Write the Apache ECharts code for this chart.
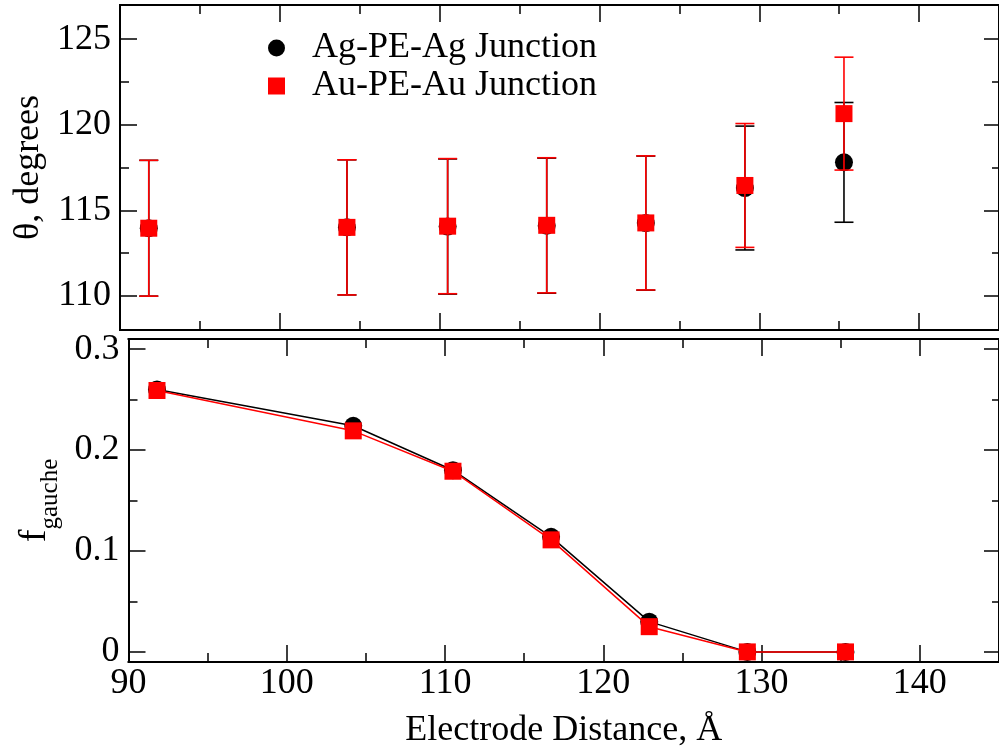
<!DOCTYPE html>
<html>
<head>
<meta charset="utf-8">
<script src="https://cdn.jsdelivr.net/npm/echarts@6/dist/echarts.min.js"></script>
<style>
  html, body { margin: 0; padding: 0; background: #fff; }
  #chart { width: 999px; height: 750px; }
</style>
</head>
<body>
<div id="chart"></div>
<script>
// electrode distance, Å
var distance = [91.8, 104.2, 110.5, 116.7, 122.9, 129.1, 135.3];
// angle theta (degrees) with error bars
var agTheta = [113.95, 114.0, 114.05, 114.1, 114.25, 116.3, 117.8];
var agThetaErr = [3.97, 3.95, 3.95, 3.95, 3.92, 3.62, 3.5];
var auTheta = [113.95, 114.0, 114.07, 114.12, 114.26, 116.45, 120.65];
var auThetaErr = [3.97, 3.95, 3.95, 3.95, 3.92, 3.62, 3.3];
// gauche fraction
var agGauche = [0.260, 0.224, 0.180, 0.114, 0.030, 0.0, 0.0];
var auGauche = [0.259, 0.219, 0.179, 0.111, 0.025, 0.0, 0.0];
// ticks
var xTicks = [90, 100, 110, 120, 130, 140];
var xMinor = [95, 105, 115, 125, 135, 145];
var thetaTicks = [110, 115, 120, 125];
var thetaMinor = [112.5, 117.5, 122.5];
var gaucheTicks = [0, 0.1, 0.2, 0.3];
var gaucheMinor = [0.05, 0.15, 0.25];

var agName = 'Ag-PE-Ag Junction';
var auName = 'Au-PE-Au Junction';
var font = '"Liberation Serif", "Times New Roman", serif';

var chart = echarts.init(document.getElementById('chart'), null, { renderer: 'canvas' });

function zip(xs, ys) {
  return xs.map(function (x, i) { return [x, ys[i]]; });
}
function errData(xs, ys, es) {
  return xs.map(function (x, i) { return [x, ys[i] - es[i], ys[i] + es[i]]; });
}

// one axis: major (with optional labels) or minor (short ticks only)
function axis(opt) {
  var a = {
    type: 'value',
    gridIndex: opt.grid,
    position: opt.pos,
    min: opt.min,
    max: opt.max,
    axisLine: { show: true, onZero: false, lineStyle: { color: '#000', width: 2 } },
    axisTick: {
      show: true, inside: true, length: opt.len,
      customValues: opt.ticks,
      lineStyle: { color: '#000', width: 1.5 }
    },
    axisLabel: { show: false },
    splitLine: { show: false }
  };
  if (opt.labels) {
    a.axisLabel = {
      show: true,
      customValues: opt.ticks,
      margin: opt.margin,
      color: '#000',
      fontFamily: font,
      fontSize: 36,
      formatter: function (v) { return String(+v.toFixed(2)); }
    };
  }
  return a;
}

function xAxes(grid, labels) {
  return [
    axis({ grid: grid, pos: 'bottom', min: 90, max: 145, len: 17, ticks: xTicks, labels: labels, margin: 4 }),
    axis({ grid: grid, pos: 'bottom', min: 90, max: 145, len: 9, ticks: xMinor }),
    axis({ grid: grid, pos: 'top', min: 90, max: 145, len: 17, ticks: xTicks }),
    axis({ grid: grid, pos: 'top', min: 90, max: 145, len: 9, ticks: xMinor })
  ];
}
function yAxes(grid, min, max, ticks, minor) {
  return [
    axis({ grid: grid, pos: 'left', min: min, max: max, len: 17, ticks: ticks, labels: true, margin: 9 }),
    axis({ grid: grid, pos: 'left', min: min, max: max, len: 9, ticks: minor }),
    axis({ grid: grid, pos: 'right', min: min, max: max, len: 15, ticks: ticks }),
    axis({ grid: grid, pos: 'right', min: min, max: max, len: 7, ticks: minor })
  ];
}

var xs = xAxes(0, false).concat(xAxes(1, true));
var ys = yAxes(0, 108, 127, thetaTicks, thetaMinor).concat(yAxes(1, -0.01, 0.31, gaucheTicks, gaucheMinor));

xs[4].name = 'Electrode Distance, Å';
xs[4].nameLocation = 'middle';
xs[4].nameGap = 51;
xs[4].nameTextStyle = { color: '#000', fontFamily: font, fontSize: 36 };

ys[0].name = 'θ, degrees';
ys[0].nameLocation = 'middle';
ys[0].nameGap = 72;
ys[0].nameTextStyle = { color: '#000', fontFamily: font, fontSize: 36 };

ys[4].name = '{f|f}{s|gauche}';
ys[4].nameLocation = 'middle';
ys[4].nameGap = 73;
ys[4].nameTextStyle = {
  color: '#000', fontFamily: font,
  rich: {
    f: { fontFamily: font, fontSize: 38, lineHeight: 40, color: '#000' },
    s: { fontFamily: font, fontSize: 25, lineHeight: 28, padding: [30, 0, 0, 0], color: '#000' }
  }
};

function errorBars(color) {
  return function (params, api) {
    var x = api.value(0);
    var lo = api.coord([x, api.value(1)]);
    var hi = api.coord([x, api.value(2)]);
    var half = 9.5;
    var style = { stroke: color, lineWidth: 1.6 };
    return {
      type: 'group',
      children: [
        { type: 'line', shape: { x1: lo[0], y1: lo[1], x2: hi[0], y2: hi[1] }, style: style },
        { type: 'line', shape: { x1: lo[0] - half, y1: lo[1], x2: lo[0] + half, y2: lo[1] }, style: style },
        { type: 'line', shape: { x1: hi[0] - half, y1: hi[1], x2: hi[0] + half, y2: hi[1] }, style: style }
      ]
    };
  };
}

var option = {
  animation: false,
  backgroundColor: '#ffffff',
  grid: [
    { left: 120, top: 5, width: 880, height: 325 },
    { left: 120, top: 339, width: 880, height: 324 }
  ],
  legend: {
    orient: 'vertical',
    left: 263,
    top: 24,
    itemWidth: 17,
    itemHeight: 17,
    itemGap: 0,
    selectedMode: false,
    textStyle: { color: '#000', fontFamily: font, fontSize: 36, lineHeight: 38, padding: [0, 0, 0, 22] },
    data: [
      { name: agName, icon: 'circle' },
      { name: auName, icon: 'rect' }
    ]
  },
  xAxis: xs,
  yAxis: ys,
  series: [
    {
      type: 'custom', name: 'agErr', xAxisIndex: 0, yAxisIndex: 0, z: 2, silent: true,
      renderItem: errorBars('#000'),
      encode: { x: 0, y: [1, 2] },
      data: errData(distance, agTheta, agThetaErr)
    },
    {
      type: 'scatter', name: agName, xAxisIndex: 0, yAxisIndex: 0, z: 3,
      symbol: 'circle', symbolSize: 18,
      itemStyle: { color: '#000', opacity: 1 },
      data: zip(distance, agTheta)
    },
    {
      type: 'custom', name: 'auErr', xAxisIndex: 0, yAxisIndex: 0, z: 4, silent: true,
      renderItem: errorBars('#ff0000'),
      encode: { x: 0, y: [1, 2] },
      data: errData(distance, auTheta, auThetaErr)
    },
    {
      type: 'scatter', name: auName, xAxisIndex: 0, yAxisIndex: 0, z: 5,
      symbol: 'rect', symbolSize: 17,
      itemStyle: { color: '#ff0000', opacity: 1 },
      data: zip(distance, auTheta)
    },
    {
      type: 'line', name: agName, xAxisIndex: 4, yAxisIndex: 4, z: 3,
      symbol: 'circle', symbolSize: 18, showAllSymbol: true,
      itemStyle: { color: '#000', opacity: 1 },
      lineStyle: { color: '#000', width: 1.5 },
      data: zip(distance, agGauche)
    },
    {
      type: 'line', name: auName, xAxisIndex: 4, yAxisIndex: 4, z: 5,
      symbol: 'rect', symbolSize: 17, showAllSymbol: true,
      itemStyle: { color: '#ff0000', opacity: 1 },
      lineStyle: { color: '#ff0000', width: 1.5 },
      data: zip(distance, auGauche)
    }
  ]
};

chart.setOption(option);
</script>
</body>
</html>
